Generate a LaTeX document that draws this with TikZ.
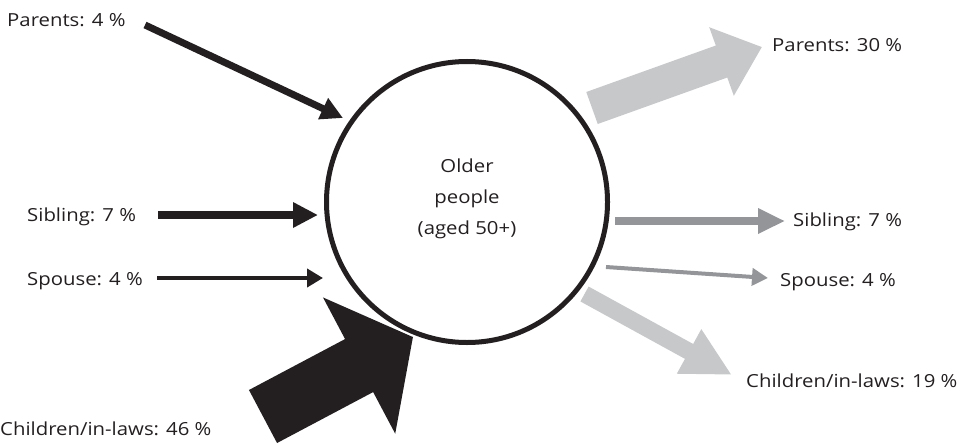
\documentclass[tikz,border=0pt]{standalone}
\usepackage{fontspec}
\setmainfont{Open Sans}[FakeStretch=1.13]
\usetikzlibrary{arrows.meta}
\definecolor{ink}{HTML}{231F20}
\definecolor{lightg}{HTML}{C7C8CA}
\definecolor{midg}{HTML}{939598}
\tikzset{
  lbl/.style={anchor=base west, inner sep=0pt, text=ink, font=\fontsize{18}{18}\selectfont},
  inarrow/.style={draw=ink, line cap=butt},
  outarrow/.style={line cap=butt},
}
\begin{document}
\begin{tikzpicture}[x=1pt,y=-1pt]
\useasboundingbox (0,0) rectangle (965,444);
% circle
\node[circle, draw=ink, line width=5pt, minimum size=281pt, inner sep=0pt] (older) at (467,202) {};
\node[align=center, text=ink, font=\fontsize{18}{31}\selectfont, inner sep=0pt] (olderlbl) at (467,199) {Older\\people\\(aged 50+)};
% labels
\node[lbl] (lpar) at (7,27) {Parents: 4 \%};
\node[lbl] (lsib) at (27,221) {Sibling: 7 \%};
\node[lbl] (lspo) at (27,285) {Spouse: 4 \%};
\node[lbl] (lchi) at (0,435) {Children/in-laws: 46 \%};
\node[lbl] (rpar) at (772,52) {Parents: 30 \%};
\node[lbl] (rsib) at (793,226) {Sibling: 7 \%};
\node[lbl] (rspo) at (780,286) {Spouse: 4 \%};
\node[lbl] (rchi) at (746,387) {Children/in-laws: 19 \%};
% arrow end points
\coordinate (a1s) at (145,25);   \coordinate (a1e) at (343,118);
\coordinate (a2s) at (158,215);  \coordinate (a2e) at (318,215);
\coordinate (a3s) at (157,278);  \coordinate (a3e) at (323,278);
\coordinate (a4s) at (263,416.5);\coordinate (a4e) at (413,337);
\coordinate (b1s) at (592,108);  \coordinate (b1e) at (762,47);
\coordinate (b2s) at (615,221);  \coordinate (b2e) at (785,221);
\coordinate (b3s) at (606,267);  \coordinate (b3e) at (768,278);
\coordinate (b4s) at (584.5,294);\coordinate (b4e) at (732,375);
% incoming
\draw[inarrow, line width=7pt, -{Triangle[length=22pt,width=22pt]}] (a1s) -- (a1e);
\draw[inarrow, line width=8pt, -{Triangle[length=25pt,width=24pt]}] (a2s) -- (a2e);
\draw[inarrow, line width=4.5pt, -{Triangle[length=16pt,width=18pt]}] (a3s) -- (a3e);
\draw[inarrow, line width=60pt, -{Triangle[length=61pt,width=151pt]}] (a4s) -- (a4e);
% outgoing
\draw[outarrow, draw=lightg, line width=34pt, -{Triangle[length=43pt,width=70pt]}] (b1s) -- (b1e);
\draw[outarrow, draw=midg, line width=8pt, -{Triangle[length=27pt,width=24pt]}] (b2s) -- (b2e);
\draw[outarrow, draw=midg, line width=4pt, -{Triangle[length=16pt,width=17pt]}] (b3s) -- (b3e);
\draw[outarrow, draw=lightg, line width=17pt, -{Triangle[length=49pt,width=47pt]}] (b4s) -- (b4e);
\end{tikzpicture}
\end{document}
